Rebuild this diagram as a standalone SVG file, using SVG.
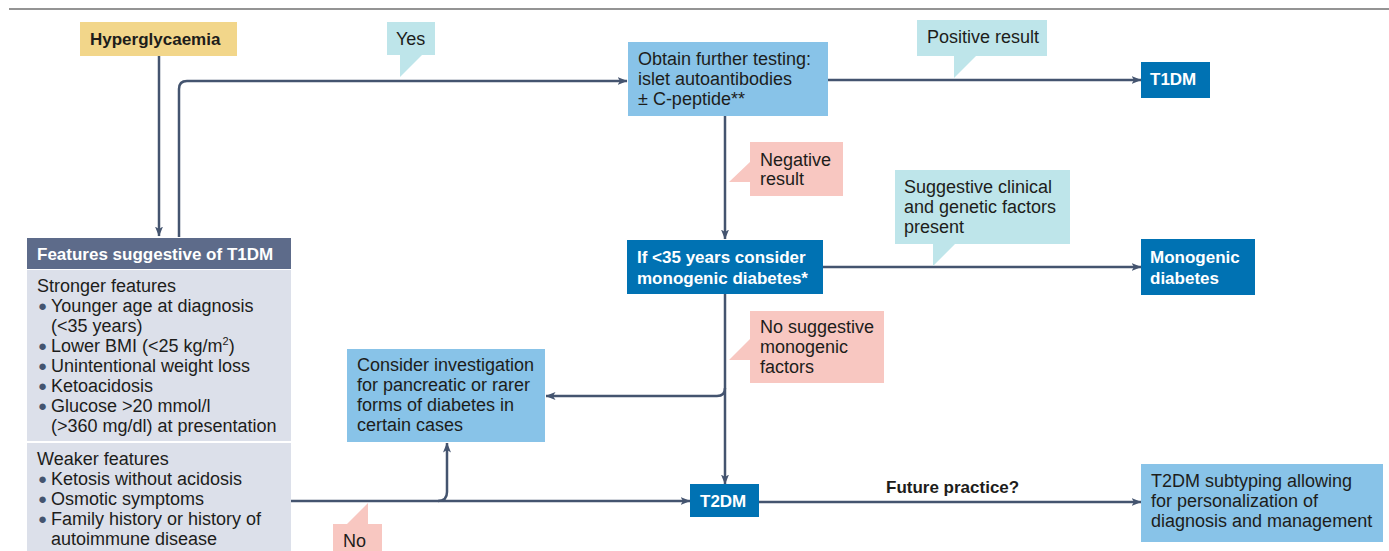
<svg xmlns="http://www.w3.org/2000/svg" width="1389" height="551" viewBox="0 0 1389 551">
  <style>
    .t { font-family: "Liberation Sans", Arial, sans-serif; font-size: 18px; fill: #1d1d1b; }
    .b { font-family: "Liberation Sans", Arial, sans-serif; font-size: 17px; font-weight: bold; fill: #1d1d1b; }
    .w { font-family: "Liberation Sans", Arial, sans-serif; font-size: 17px; font-weight: bold; fill: #ffffff; }
    .dot { font-family: "Liberation Sans", Arial, sans-serif; font-size: 15px; fill: #44546f; }
    .light { fill: #88c3e8; }
    .dark { fill: #0072b3; }
    .cyan { fill: #bee5ea; }
    .pink { fill: #f8c7c1; }
    .conn { fill: none; stroke: #44546f; stroke-width: 2.5; }
    .arr { marker-end: url(#ah); }
  </style>
  <defs>
    <marker id="ah" viewBox="0 0 10 8" refX="9.5" refY="4" markerWidth="10" markerHeight="8" markerUnits="userSpaceOnUse" orient="auto">
      <path d="M0,0 L10,4 L0,8 L2.5,4 Z" fill="#44546f"/>
    </marker>
  </defs>

  <rect width="1389" height="551" fill="#ffffff"/>
  <line x1="9" y1="9" x2="1389" y2="9" stroke="#707070" stroke-width="1.5"/>

  <!-- connectors -->
  <g id="connectors">
    <path class="conn arr" d="M159,55 V236"/>
    <path class="conn arr" d="M179,237 V89 Q179,81 187,81 H627"/>
    <path class="conn arr" d="M828,80 H1141"/>
    <path class="conn arr" d="M725,116 V239"/>
    <path class="conn arr" d="M823,267 H1141"/>
    <path class="conn arr" d="M725,294 V484"/>
    <path class="conn arr" d="M725,388 Q725,396 717,396 H546"/>
    <path class="conn arr" d="M291,501 H690"/>
    <path class="conn arr" d="M438,501 Q447,501 447,492 V443"/>
    <path class="conn arr" d="M759,502 H1141"/>
  </g>

  <!-- callout labels -->
  <g id="label-yes">
    <path class="cyan" d="M387,22 H435 V55 H422 L400,77 V55 H387 Z"/>
    <text class="t" x="396" y="45">Yes</text>
  </g>
  <g id="label-positive">
    <path class="cyan" d="M917,20 H1047 V56 H976 L954,78 V56 H917 Z"/>
    <text class="t" x="927" y="43">Positive result</text>
  </g>
  <g id="label-negative">
    <path class="pink" d="M750,142 H843 V196 H750 V182 H729 L750,162 Z"/>
    <text class="t" x="760" y="166">Negative</text>
    <text class="t" x="760" y="185">result</text>
  </g>
  <g id="label-suggestive">
    <path class="cyan" d="M895,170 H1070 V244 H955 L933,266 V244 H895 Z"/>
    <text class="t" x="904" y="193">Suggestive clinical</text>
    <text class="t" x="904" y="213">and genetic factors</text>
    <text class="t" x="904" y="233">present</text>
  </g>
  <g id="label-no-suggestive">
    <path class="pink" d="M750,311 H884 V383 H750 V360 H729 L750,339 Z"/>
    <text class="t" x="760" y="333">No suggestive</text>
    <text class="t" x="760" y="353">monogenic</text>
    <text class="t" x="760" y="373">factors</text>
  </g>
  <g id="label-no">
    <path class="pink" d="M333,524 H347 L368,503 V524 H382 V551 H333 Z"/>
    <text class="t" x="343" y="547">No</text>
  </g>
  <g id="label-future">
    <text class="b" x="886" y="493">Future practice?</text>
  </g>

  <!-- nodes -->
  <g id="hyperglycaemia">
    <rect x="80" y="22" width="157" height="34" fill="#f2d68a"/>
    <text class="b" x="90" y="45">Hyperglycaemia</text>
  </g>

  <g id="features">
    <rect x="27" y="238" width="264" height="31" fill="#5d6b8a"/>
    <rect x="27" y="270" width="264" height="171" fill="#dce0ea"/>
    <rect x="27" y="443" width="264" height="108" fill="#dce0ea"/>
    <text class="b" x="37" y="260" style="fill:#ffffff">Features suggestive of T1DM</text>
    <text class="t" x="37" y="292">Stronger features</text>
    <text class="dot" x="38" y="311">●</text>
    <text class="t" x="51" y="312">Younger age at diagnosis</text>
    <text class="t" x="51" y="332">(&lt;35 years)</text>
    <text class="dot" x="38" y="351">●</text>
    <text class="t" x="51" y="352">Lower BMI (&lt;25 kg/m<tspan font-size="11" dy="-7">2</tspan><tspan dy="7">)</tspan></text>
    <text class="dot" x="38" y="371">●</text>
    <text class="t" x="51" y="372">Unintentional weight loss</text>
    <text class="dot" x="38" y="391">●</text>
    <text class="t" x="51" y="392">Ketoacidosis</text>
    <text class="dot" x="38" y="411">●</text>
    <text class="t" x="51" y="412">Glucose &gt;20 mmol/l</text>
    <text class="t" x="51" y="432">(&gt;360 mg/dl) at presentation</text>
    <text class="t" x="37" y="465">Weaker features</text>
    <text class="dot" x="38" y="484">●</text>
    <text class="t" x="51" y="485">Ketosis without acidosis</text>
    <text class="dot" x="38" y="504">●</text>
    <text class="t" x="51" y="505">Osmotic symptoms</text>
    <text class="dot" x="38" y="524">●</text>
    <text class="t" x="51" y="525">Family history or history of</text>
    <text class="t" x="51" y="545">autoimmune disease</text>
  </g>

  <g id="further-testing">
    <rect class="light" x="628" y="42" width="200" height="74"/>
    <text class="t" x="638" y="65">Obtain further testing:</text>
    <text class="t" x="638" y="85">islet autoantibodies</text>
    <text class="t" x="638" y="105">± C-peptide**</text>
  </g>

  <g id="t1dm">
    <rect class="dark" x="1141" y="62" width="69" height="36"/>
    <text class="w" x="1150" y="85">T1DM</text>
  </g>

  <g id="monogenic-check">
    <rect class="dark" x="627" y="240" width="196" height="54"/>
    <text class="w" x="637" y="263">If &lt;35 years consider</text>
    <text class="w" x="637" y="284">monogenic diabetes*</text>
  </g>

  <g id="monogenic">
    <rect class="dark" x="1141" y="239" width="114" height="56"/>
    <text class="w" x="1150" y="263">Monogenic</text>
    <text class="w" x="1150" y="284">diabetes</text>
  </g>

  <g id="rarer-forms">
    <rect class="light" x="347" y="349" width="198" height="93"/>
    <text class="t" x="357" y="371">Consider investigation</text>
    <text class="t" x="357" y="391">for pancreatic or rarer</text>
    <text class="t" x="357" y="411">forms of diabetes in</text>
    <text class="t" x="357" y="431">certain cases</text>
  </g>

  <g id="t2dm">
    <rect class="dark" x="690" y="484" width="69" height="33"/>
    <text class="w" x="700" y="507">T2DM</text>
  </g>

  <g id="subtyping">
    <rect class="light" x="1141" y="464" width="242" height="78"/>
    <text class="t" x="1151" y="487">T2DM subtyping allowing</text>
    <text class="t" x="1151" y="507">for personalization of</text>
    <text class="t" x="1151" y="527">diagnosis and management</text>
  </g>
</svg>
